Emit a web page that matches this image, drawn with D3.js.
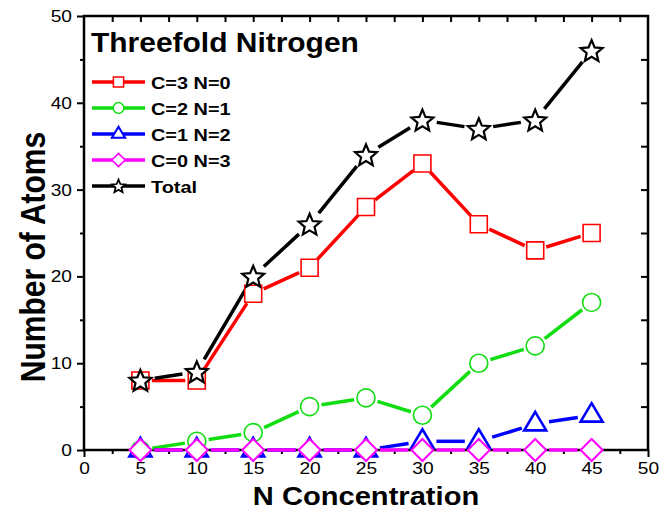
<!DOCTYPE html>
<html>
<head>
<meta charset="utf-8">
<script src="https://cdn.jsdelivr.net/npm/d3@7"></script>
<style>
  body { margin: 0; background: #fff; }
  svg { display: block; font-family: "Liberation Sans", Arial, sans-serif; }
  .tick text { font-size: 17px; fill: #000; }
</style>
</head>
<body>
<script>
// data
const conc = [5, 10, 15, 20, 25, 30, 35, 40, 45];
const c3n0 = [8, 8, 18, 21, 28, 33, 26, 23, 25];
const c2n1 = [0, 1, 2, 5, 6, 4, 10, 12, 17];
const c1n2 = [0, 0, 0, 0, 0, 1, 1, 3, 4];
const c0n3 = [0, 0, 0, 0, 0, 0, 0, 0, 0];
const total = [8, 9, 20, 26, 34, 38, 37, 38, 46];
const xTicks = [0, 5, 10, 15, 20, 25, 30, 35, 40, 45, 50];
const yTicks = [0, 10, 20, 30, 40, 50];

const W = 670, H = 513;
const pL = 84, pR = 648, pT = 16, pB = 450;
const stretch = 1.13; // the original text looks a bit wide

const series = [
  { name: "C=3 N=0", vals: c3n0, color: "#ff0000", shape: "square", r: 8.5, sw: 1.6 },
  { name: "C=2 N=1", vals: c2n1, color: "#11dd11", shape: "circle", r: 9, sw: 1.6 },
  { name: "C=1 N=2", vals: c1n2, color: "#0000ff", shape: "triangle", r: 11, sw: 2.6 },
  { name: "C=0 N=3", vals: c0n3, color: "#ff00ff", shape: "diamond", r: 11, sw: 2 },
  { name: "Total", vals: total, color: "#000000", shape: "star", r: 11.5, sw: 2.2 }
];

const svg = d3.select("body").append("svg").attr("width", W).attr("height", H);

const x = d3.scaleLinear().domain([0, 50]).range([pL, pR]);
const y = d3.scaleLinear().domain([0, 50]).range([pB, pT]);

function markerPath(shape, r) {
  const p = d3.path();
  if (shape === "square") {
    p.rect(-r, -r, 2 * r, 2 * r);
  } else if (shape === "circle") {
    p.arc(0, 0, r, 0, 2 * Math.PI);
  } else if (shape === "triangle") {
    p.moveTo(0, -r * 1.1); p.lineTo(r, r * 0.58); p.lineTo(-r, r * 0.58); p.closePath();
  } else if (shape === "diamond") {
    p.moveTo(0, -r); p.lineTo(r, 0); p.lineTo(0, r); p.lineTo(-r, 0); p.closePath();
  } else if (shape === "star") {
    for (let i = 0; i < 10; i++) {
      const a = -Math.PI / 2 + i * Math.PI / 5;
      const rr = i % 2 === 0 ? r : r * 0.45;
      const px = rr * Math.cos(a), py = rr * Math.sin(a) + r * 0.08;
      if (i === 0) p.moveTo(px, py); else p.lineTo(px, py);
    }
    p.closePath();
  }
  return p.toString();
}

// axes frame
const axisG = svg.append("g");
const bAxis = d3.axisBottom(x).tickValues(xTicks).tickSizeInner(7).tickSizeOuter(0).tickPadding(5);
axisG.append("g").attr("transform", `translate(0,${pB})`).call(bAxis)
  .selectAll("text").attr("transform", `scale(${stretch},1)`);
axisG.append("g").attr("transform", `translate(0,${pB})`)
  .call(d3.axisBottom(x).tickValues(d3.range(2.5, 50, 5)).tickSizeInner(4).tickSizeOuter(0).tickFormat(""));
const lAxis = d3.axisLeft(y).tickValues(yTicks).tickSizeInner(7).tickSizeOuter(0).tickPadding(5);
axisG.append("g").attr("transform", `translate(${pL},0)`).call(lAxis)
  .selectAll("text").attr("x", -12 / stretch).attr("transform", `scale(${stretch},1)`);
axisG.append("g").attr("transform", `translate(${pL},0)`)
  .call(d3.axisLeft(y).tickValues(d3.range(5, 50, 10)).tickSizeInner(4).tickSizeOuter(0).tickFormat(""));
axisG.append("g").attr("transform", `translate(0,${pT})`)
  .call(d3.axisTop(x).tickValues(d3.range(2.5, 50, 2.5)).tickSizeInner(-6).tickSizeOuter(0).tickFormat(""));
axisG.append("g").attr("transform", `translate(${pR},0)`)
  .call(d3.axisRight(y).tickValues(d3.range(5, 50, 5)).tickSizeInner(-7).tickSizeOuter(0).tickFormat(""));
axisG.selectAll(".domain").remove();
axisG.selectAll(".tick line").attr("stroke", "#000").attr("stroke-width", 2);
axisG.append("rect").attr("x", pL).attr("y", pT).attr("width", pR - pL).attr("height", pB - pT)
  .attr("fill", "none").attr("stroke", "#000").attr("stroke-width", 2.5);

// series lines with gaps at markers
series.forEach(s => {
  const pts = conc.map((c, i) => [x(c), y(s.vals[i])]);
  const gap = s.r + 3;
  const g = svg.append("g");
  for (let i = 0; i < pts.length - 1; i++) {
    const [x0, y0] = pts[i], [x1, y1] = pts[i + 1];
    const len = Math.hypot(x1 - x0, y1 - y0);
    if (len <= 2 * gap) continue;
    const ux = (x1 - x0) / len, uy = (y1 - y0) / len;
    g.append("line")
      .attr("x1", x0 + ux * gap).attr("y1", y0 + uy * gap)
      .attr("x2", x1 - ux * gap).attr("y2", y1 - uy * gap)
      .attr("stroke", s.color).attr("stroke-width", 3.5);
  }
});

// markers
series.forEach(s => {
  svg.append("g").selectAll("path")
    .data(conc.map((c, i) => [c, s.vals[i]]))
    .join("path")
    .attr("transform", d => `translate(${x(d[0])},${y(d[1])})`)
    .attr("d", markerPath(s.shape, s.r))
    .attr("fill", "#fff")
    .attr("stroke", s.color)
    .attr("stroke-width", s.sw);
});

// title + legend
svg.append("text").attr("transform", "translate(91,52) scale(1.07,1)")
  .attr("font-size", 28).attr("font-weight", "bold").text("Threefold Nitrogen");

const leg = svg.append("g");
series.forEach((s, i) => {
  const cy = 82 + i * 26;
  leg.append("line").attr("x1", 92).attr("x2", 145).attr("y1", cy).attr("y2", cy)
    .attr("stroke", s.color).attr("stroke-width", 3.5);
  leg.append("path").attr("transform", `translate(118.5,${cy})`)
    .attr("d", markerPath(s.shape, s.r * 0.6))
    .attr("fill", "#fff").attr("stroke", s.color).attr("stroke-width", Math.max(1.5, s.sw * 0.8));
  leg.append("text").attr("transform", `translate(151,${cy + 6.5}) scale(1.17,1)`)
    .attr("font-size", 17).attr("font-weight", "bold").text(s.name);
});

// axis titles
svg.append("text").attr("transform", `translate(${(pL + pR) / 2},505) scale(1.12,1)`)
  .attr("text-anchor", "middle").attr("font-size", 26).attr("font-weight", "bold")
  .text("N Concentration");
svg.append("text").attr("transform", `translate(45,257) scale(1.16,1) rotate(-90)`)
  .attr("text-anchor", "middle").attr("font-size", 30).attr("font-weight", "bold")
  .text("Number of Atoms");
</script>
</body>
</html>
